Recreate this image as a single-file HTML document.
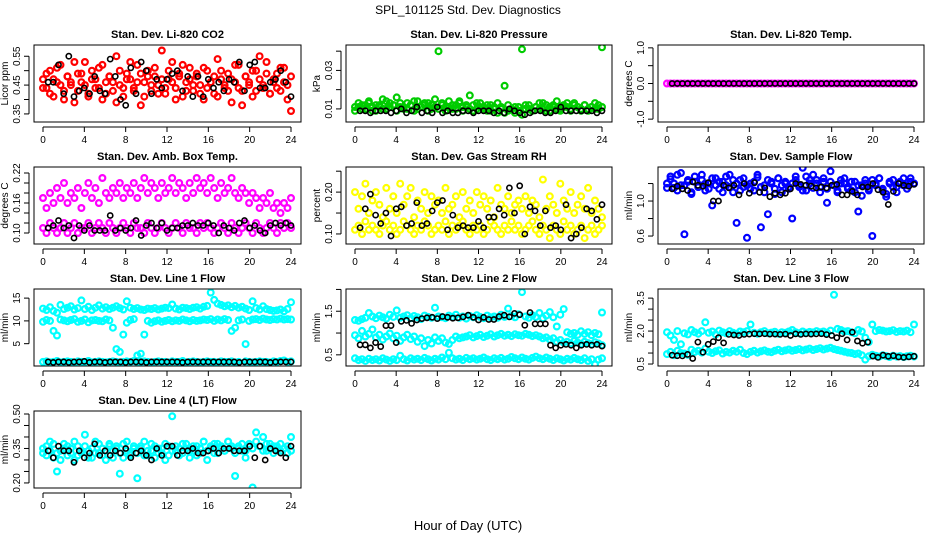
<!DOCTYPE html>
<html><head><meta charset="utf-8"><style>
html,body{margin:0;padding:0;background:#fff}
svg{display:block;font-family:"Liberation Sans",sans-serif}
</style></head><body>
<svg id="chart" width="936" height="540" viewBox="0 0 936 540">
<text x="468" y="14" text-anchor="middle" font-size="12">SPL_101125  Std. Dev. Diagnostics</text>
<text x="468" y="530" text-anchor="middle" font-size="13">Hour of Day (UTC)</text>
</svg>
<script>
const co2Red=[0.47,0.44,0.50,0.41,0.46,0.52,0.43,0.48,0.45,0.39,0.49,0.46,0.53,0.42,0.47,0.44,0.51,0.40,0.46,0.48,0.43,0.55,0.45,0.41,0.49,0.47,0.44,0.52,0.38,0.46,0.50,0.43,0.48,0.45,0.57,0.42,0.47,0.53,0.44,0.49,0.41,0.46,0.51,0.43,0.48,0.45,0.40,0.50,0.46,0.42,0.54,0.47,0.44,0.49,0.39,0.46,0.52,0.43,0.48,0.45,0.41,0.50,0.47,0.44,0.53,0.42,0.46,0.49,0.43,0.51,0.45,0.48];
const co2Red2=[0.44,0.49,0.42,0.47,0.51,0.45,0.40,0.48,0.46,0.53,0.43,0.49,0.45,0.41,0.50,0.47,0.44,0.52,0.42,0.48,0.46,0.39,0.50,0.44,0.47,0.53,0.43,0.46,0.49,0.41,0.48,0.45,0.51,0.42,0.47,0.44,0.50,0.46,0.40,0.48,0.52,0.43,0.47,0.45,0.49,0.42,0.51,0.44,0.46,0.48,0.41,0.50,0.45,0.43,0.47,0.52,0.44,0.38,0.48,0.46,0.50,0.43,0.55,0.45,0.49,0.42,0.47,0.44,0.51,0.46,0.40,0.36];
const co2Black=[0.46,0.46,0.52,0.42,0.55,0.41,0.43,0.44,0.42,0.48,0.43,0.42,0.54,0.48,0.40,0.38,0.51,0.42,0.53,0.50,0.42,0.47,0.44,0.47,0.49,0.50,0.43,0.48,0.41,0.48,0.41,0.47,0.44,0.46,0.43,0.47,0.46,0.53,0.43,0.52,0.53,0.44,0.44,0.46,0.47,0.50,0.46,0.41];
const presGreen=[0.011,0.013,0.010,0.012,0.014,0.009,0.012,0.011,0.015,0.010,0.013,0.012,0.016,0.011,0.010,0.013,0.012,0.009,0.014,0.011,0.012,0.013,0.010,0.015,0.040,0.012,0.011,0.014,0.010,0.012,0.013,0.009,0.011,0.017,0.012,0.010,0.013,0.011,0.009,0.012,0.010,0.008,0.011,0.022,0.009,0.010,0.008,0.011,0.041,0.012,0.010,0.009,0.011,0.013,0.010,0.012,0.009,0.011,0.014,0.010,0.012,0.011,0.009,0.013,0.011,0.010,0.012,0.009,0.011,0.010,0.012,0.042];
const presGreen2=[0.009,0.011,0.012,0.010,0.013,0.011,0.009,0.012,0.010,0.014,0.011,0.012,0.009,0.013,0.011,0.010,0.012,0.014,0.010,0.011,0.013,0.009,0.012,0.011,0.010,0.013,0.009,0.011,0.012,0.010,0.014,0.011,0.012,0.010,0.009,0.013,0.011,0.010,0.012,0.009,0.011,0.013,0.010,0.008,0.012,0.010,0.011,0.009,0.007,0.010,0.012,0.009,0.011,0.010,0.013,0.009,0.011,0.012,0.010,0.009,0.011,0.013,0.010,0.012,0.011,0.009,0.012,0.010,0.011,0.013,0.010,0.011];
const presBlack=[0.009,0.009,0.008,0.009,0.009,0.009,0.008,0.009,0.010,0.008,0.009,0.011,0.008,0.009,0.008,0.011,0.008,0.009,0.008,0.008,0.009,0.009,0.008,0.009,0.009,0.009,0.008,0.009,0.008,0.010,0.009,0.008,0.007,0.008,0.009,0.009,0.008,0.008,0.009,0.011,0.009,0.009,0.009,0.009,0.009,0.009,0.008,0.009];
const tempMagenta=[0,0,0,0,0,0,0,0,0,0,0,0,0,0,0,0,0,0,0,0,0,0,0,0,0,0,0,0,0,0,0,0,0,0,0,0,0,0,0,0,0,0,0,0,0,0,0,0,0,0,0,0,0,0,0,0,0,0,0,0,0,0,0,0,0,0,0,0,0,0,0,0];
const tempBlack=[0,0,0,0,0,0,0,0,0,0,0,0,0,0,0,0,0,0,0,0,0,0,0,0,0,0,0,0,0,0,0,0,0,0,0,0,0,0,0,0,0,0,0,0,0,0,0,0];
const boxUpper=[0.17,0.15,0.18,0.16,0.19,0.17,0.20,0.16,0.18,0.17,0.19,0.15,0.18,0.20,0.17,0.19,0.16,0.21,0.18,0.17,0.19,0.18,0.20,0.17,0.19,0.18,0.20,0.17,0.19,0.21,0.18,0.20,0.19,0.17,0.20,0.18,0.19,0.21,0.18,0.20,0.19,0.17,0.20,0.18,0.21,0.19,0.20,0.18,0.21,0.19,0.17,0.20,0.18,0.19,0.21,0.18,0.17,0.19,0.18,0.16,0.18,0.17,0.15,0.17,0.16,0.18,0.15,0.16,0.14,0.16,0.15,0.17];
const boxLower=[0.11,0.10,0.12,0.11,0.10,0.11,0.12,0.10,0.11,0.12,0.10,0.11,0.11,0.12,0.10,0.11,0.12,0.11,0.10,0.12,0.11,0.10,0.11,0.12,0.11,0.10,0.12,0.11,0.11,0.10,0.12,0.11,0.10,0.11,0.12,0.11,0.10,0.11,0.12,0.11,0.10,0.12,0.11,0.11,0.10,0.12,0.11,0.12,0.11,0.10,0.11,0.12,0.11,0.10,0.12,0.11,0.10,0.11,0.12,0.11,0.10,0.12,0.11,0.10,0.11,0.12,0.11,0.10,0.12,0.11,0.12,0.11];
const boxBlack=[0.11,0.115,0.125,0.11,0.115,0.09,0.115,0.105,0.115,0.105,0.105,0.105,0.135,0.105,0.11,0.105,0.11,0.125,0.095,0.115,0.12,0.11,0.12,0.105,0.11,0.11,0.115,0.115,0.12,0.115,0.115,0.12,0.115,0.10,0.115,0.11,0.105,0.12,0.125,0.11,0.115,0.105,0.10,0.115,0.12,0.115,0.12,0.115];
const rhUpper=[0.20,0.16,0.19,0.22,0.15,0.18,0.20,0.17,0.14,0.21,0.16,0.19,0.15,0.22,0.17,0.19,0.21,0.14,0.18,0.16,0.20,0.15,0.19,0.17,0.18,0.15,0.21,0.16,0.17,0.19,0.14,0.20,0.16,0.18,0.15,0.20,0.17,0.19,0.16,0.18,0.14,0.21,0.17,0.16,0.19,0.15,0.17,0.18,0.16,0.19,0.15,0.18,0.17,0.14,0.23,0.16,0.19,0.17,0.15,0.22,0.18,0.16,0.20,0.15,0.17,0.19,0.16,0.21,0.15,0.18,0.16,0.14];
const rhLower=[0.11,0.12,0.10,0.13,0.11,0.12,0.11,0.10,0.12,0.13,0.11,0.12,0.10,0.11,0.13,0.12,0.11,0.10,0.12,0.11,0.13,0.12,0.10,0.11,0.12,0.11,0.13,0.10,0.12,0.11,0.12,0.13,0.11,0.10,0.12,0.11,0.12,0.10,0.11,0.13,0.12,0.11,0.10,0.12,0.11,0.13,0.11,0.12,0.10,0.11,0.12,0.13,0.11,0.10,0.12,0.11,0.09,0.12,0.11,0.10,0.13,0.11,0.12,0.10,0.11,0.12,0.09,0.11,0.12,0.10,0.11,0.12];
const rhBlack=[0.115,0.16,0.195,0.145,0.125,0.15,0.095,0.16,0.165,0.12,0.125,0.175,0.12,0.125,0.155,0.175,0.18,0.11,0.145,0.115,0.12,0.115,0.115,0.13,0.115,0.14,0.14,0.16,0.145,0.21,0.15,0.215,0.10,0.165,0.155,0.12,0.155,0.115,0.12,0.11,0.17,0.09,0.10,0.115,0.16,0.155,0.135,0.17];
const flowBlue=[1.20,1.25,1.15,1.30,1.18,0.62,1.22,1.10,1.28,1.16,1.24,1.12,1.20,0.95,1.26,1.14,1.22,1.18,1.30,1.10,0.75,1.24,1.16,0.58,1.20,1.12,1.27,0.70,1.18,0.85,1.22,1.14,1.26,1.10,1.20,1.16,0.80,1.24,1.18,1.12,1.28,1.20,1.15,1.24,1.10,1.22,0.98,1.34,1.18,1.12,1.20,1.26,1.14,1.22,1.10,0.88,1.18,1.24,1.12,0.60,1.20,1.26,1.14,1.05,1.22,1.16,1.10,1.20,1.26,1.18,1.22,1.20];
const flowBlue2=[1.15,1.28,1.20,1.12,1.32,1.18,1.24,1.08,1.22,1.16,1.30,1.20,1.14,1.26,1.18,1.22,1.10,1.28,1.16,1.24,1.20,1.12,1.26,1.18,1.14,1.22,1.30,1.16,1.10,1.24,1.20,1.08,1.26,1.18,1.22,1.14,1.20,1.28,1.16,1.38,1.12,1.24,1.30,1.20,1.16,1.26,1.14,1.22,1.18,1.10,1.24,1.20,1.16,1.12,1.22,1.18,1.06,1.20,1.14,1.24,1.18,1.26,1.12,1.08,1.20,1.24,1.16,1.22,1.18,1.14,1.26,1.20];
const flowBlack=[1.14,1.17,1.14,1.12,1.22,1.18,1.17,1.21,1.00,1.00,1.18,1.15,1.18,1.07,1.20,1.09,1.21,1.10,1.15,1.05,1.09,1.07,1.09,1.14,1.20,1.19,1.18,1.17,1.15,1.16,1.15,1.18,1.19,1.07,1.07,1.11,1.07,1.16,1.16,1.20,1.13,1.10,0.96,1.11,1.20,1.18,1.17,1.19];
const line1High=[12.7,12.4,13.0,12.2,11.8,13.5,12.6,12.9,13.2,12.5,12.8,14.5,12.6,13.1,12.4,12.9,13.4,12.7,13.0,12.6,12.9,13.2,12.8,12.5,14.3,12.9,12.6,12.8,12.5,12.4,12.7,12.6,12.8,12.5,12.7,12.9,12.8,13.6,12.7,12.5,12.9,12.8,12.6,12.9,13.0,12.7,13.1,13.3,16.2,14.6,13.8,13.5,13.2,13.4,13.0,13.3,12.9,13.1,12.7,12.4,14.3,12.8,12.5,13.2,12.6,12.4,12.2,12.3,12.5,12.1,12.6,14.1];
const line1Mid=[9.8,10.2,10.0,7.8,6.8,10.3,10.1,9.9,10.2,10.4,9.8,10.0,10.3,9.7,10.1,10.2,10.0,9.9,10.3,10.1,8.5,3.8,3.2,7.0,9.6,10.2,10.4,2.4,2.8,7.0,10.0,9.6,9.9,10.1,9.8,10.0,10.2,9.9,10.1,10.0,10.3,10.1,9.9,10.2,10.0,10.1,10.3,10.2,10.4,10.0,10.3,10.1,10.4,10.2,7.8,8.5,10.1,10.3,4.9,10.0,10.3,10.4,10.2,10.5,10.3,10.2,10.4,10.3,10.5,10.3,10.4,10.3];
const line1Low=[1.0,1.1,0.9,1.0,1.2,0.9,1.0,1.1,1.0,0.9,1.1,1.0,1.0,1.2,0.9,1.0,1.1,1.0,0.9,1.0,1.1,1.0,0.9,1.0,1.1,1.0,1.2,0.9,1.0,1.1,1.0,0.9,1.0,1.1,1.0,1.0,0.9,1.1,1.0,1.0,1.2,0.9,1.0,1.1,1.0,0.9,1.0,1.1,1.0,1.0,0.9,1.1,1.0,1.0,1.1,0.9,1.0,0.6,1.1,1.0,0.9,1.0,1.1,1.0,1.0,0.9,1.1,1.0,1.2,1.3,1.0,1.1];
const line1Black=[1.0,0.9,1.0,1.0,0.9,1.0,1.0,1.1,0.9,1.0,1.0,0.9,1.0,1.0,1.0,0.9,1.0,1.0,1.0,0.9,1.0,1.0,1.0,1.0,1.0,1.0,0.9,1.0,1.0,1.0,1.0,1.0,1.0,1.0,1.0,1.0,1.0,0.9,1.0,1.0,1.0,1.0,1.0,0.9,1.0,1.0,1.0,1.0];
const line2High=[1.30,1.28,1.32,1.35,1.46,1.38,1.34,1.40,1.36,1.33,1.42,1.37,1.52,1.35,1.38,1.41,1.34,1.39,1.36,1.32,1.40,1.37,1.35,1.58,1.38,1.36,1.34,1.40,1.37,1.42,1.35,1.38,1.33,1.39,1.36,1.41,1.37,1.34,1.40,1.36,1.38,1.35,1.42,1.37,1.56,1.39,1.36,1.43,1.94,1.38,1.35,1.41,1.37,1.46,1.34,1.40,1.48,1.36,1.15,1.42,1.55,1.02,0.98,1.00,0.96,1.04,0.98,1.02,0.95,1.00,0.97,1.47];
const line2Mid=[0.95,0.88,1.05,0.92,0.98,1.08,0.90,0.96,0.85,0.92,0.99,0.88,0.94,0.82,0.90,0.96,0.86,0.92,0.80,0.88,0.70,0.84,0.76,0.90,0.82,0.88,0.78,0.75,0.84,0.92,0.88,0.90,0.92,0.95,0.90,0.93,0.96,0.91,0.94,0.97,0.92,0.95,0.98,0.94,0.96,0.93,0.97,0.95,0.94,0.98,0.96,0.93,0.95,0.92,0.88,0.90,0.85,0.88,0.80,0.84,0.78,0.80,0.76,0.82,0.78,0.75,0.80,0.77,0.74,0.79,0.76,0.72];
const line2Low=[0.42,0.38,0.40,0.36,0.41,0.38,0.40,0.37,0.42,0.39,0.36,0.40,0.38,0.48,0.40,0.37,0.42,0.39,0.41,0.38,0.43,0.40,0.37,0.41,0.39,0.44,0.40,0.55,0.42,0.39,0.41,0.38,0.43,0.40,0.42,0.39,0.41,0.44,0.40,0.38,0.42,0.40,0.43,0.39,0.41,0.45,0.42,0.40,0.44,0.41,0.39,0.43,0.46,0.42,0.40,0.44,0.41,0.38,0.42,0.40,0.37,0.41,0.39,0.43,0.40,0.38,0.42,0.36,0.40,0.28,0.39,0.42];
const line2Black=[0.73,0.73,0.66,0.78,0.69,1.17,1.17,0.78,1.27,1.29,1.22,1.30,1.33,1.35,1.36,1.33,1.38,1.36,1.34,1.35,1.37,1.41,1.36,1.30,1.36,1.31,1.31,1.38,1.41,1.37,1.45,1.42,1.18,1.47,1.21,1.21,1.21,0.72,0.66,0.72,0.74,0.72,0.66,0.72,0.74,0.72,0.74,0.70];
const line3High=[1.95,1.80,1.60,2.00,1.40,1.90,1.85,2.05,1.95,1.88,2.00,2.40,1.92,1.98,1.85,2.02,1.95,1.90,2.00,1.92,1.88,1.98,1.95,2.00,2.30,1.92,1.88,1.95,2.00,1.90,1.93,1.97,1.88,1.95,1.92,1.98,2.05,1.95,1.90,1.98,1.92,1.96,1.94,2.00,1.95,1.98,1.92,2.02,3.65,2.10,2.05,1.98,2.00,1.95,1.90,2.05,1.98,1.70,1.50,2.30,2.00,2.05,2.02,1.98,2.00,2.04,1.96,2.00,1.98,2.02,1.95,2.30];
const line3Low=[0.95,1.05,0.90,1.10,1.00,0.98,0.92,1.15,1.05,1.10,1.02,1.20,1.06,1.00,1.08,1.12,0.98,1.05,1.02,1.10,1.06,1.15,1.00,0.95,1.05,1.10,1.02,1.08,1.12,1.06,1.04,1.10,1.15,1.08,1.12,1.16,1.10,1.14,1.18,1.12,1.16,1.20,1.14,1.18,1.22,1.16,1.20,1.24,1.18,1.14,1.10,1.06,1.02,1.00,0.95,0.98,0.90,0.70,0.85,0.92,0.88,0.84,0.90,0.86,0.82,0.88,0.84,0.86,0.82,0.85,0.88,0.84];
const line3Black=[0.90,0.88,0.87,0.94,0.75,1.50,1.04,1.40,1.52,1.70,1.46,1.85,1.82,1.80,1.85,1.86,1.88,1.87,1.88,1.86,1.86,1.85,1.86,1.80,1.87,1.85,1.87,1.86,1.87,1.88,1.84,1.80,1.70,1.88,1.60,1.95,1.55,1.45,1.50,0.86,0.80,0.90,0.85,0.88,0.82,0.80,0.83,0.85];
const line4Cyan=[0.33,0.36,0.38,0.31,0.25,0.34,0.37,0.32,0.35,0.30,0.36,0.33,0.41,0.34,0.31,0.38,0.33,0.35,0.30,0.37,0.34,0.36,0.24,0.31,0.38,0.33,0.35,0.22,0.36,0.32,0.34,0.37,0.31,0.35,0.33,0.30,0.36,0.49,0.34,0.32,0.37,0.35,0.31,0.34,0.36,0.33,0.38,0.30,0.35,0.37,0.33,0.36,0.34,0.38,0.35,0.23,0.36,0.34,0.31,0.37,0.18,0.42,0.36,0.40,0.34,0.37,0.33,0.36,0.34,0.35,0.33,0.40];
const line4Cyan2=[0.35,0.32,0.34,0.37,0.33,0.30,0.35,0.36,0.33,0.38,0.32,0.34,0.36,0.31,0.35,0.33,0.37,0.32,0.34,0.36,0.31,0.35,0.33,0.37,0.34,0.32,0.36,0.33,0.35,0.38,0.32,0.34,0.36,0.33,0.35,0.37,0.32,0.34,0.36,0.35,0.33,0.37,0.34,0.36,0.32,0.35,0.38,0.34,0.36,0.33,0.37,0.35,0.34,0.38,0.36,0.33,0.35,0.37,0.34,0.36,0.35,0.38,0.36,0.34,0.37,0.35,0.36,0.34,0.37,0.35,0.36,0.34];
const line4Black=[0.34,0.31,0.36,0.34,0.34,0.29,0.34,0.31,0.33,0.37,0.32,0.34,0.32,0.34,0.33,0.35,0.31,0.33,0.34,0.32,0.30,0.35,0.32,0.36,0.36,0.32,0.34,0.34,0.35,0.33,0.33,0.34,0.35,0.33,0.35,0.35,0.34,0.34,0.34,0.36,0.31,0.36,0.30,0.35,0.34,0.33,0.31,0.36];
const xTickLabels=["0","4","8","12","16","20","24"];
const xTicks=[0,4,8,12,16,20,24];

const NS="http://www.w3.org/2000/svg";
const svg=document.getElementById('chart');
const cols=[{l:34,r:301},{l:346,r:612},{l:658,r:924}];
const rows=[45,167,289,411];
const H=77;
function el(tag,attrs,parent){const e=document.createElementNS(NS,tag);for(const k in attrs)e.setAttribute(k,attrs[k]);(parent||svg).appendChild(e);return e;}

const panels=[
 {name:'co2',title:'Stan. Dev. Li-820 CO2',ylab:'Licor ppm',c:0,r:0,ylim:[0.322,0.589],ticks:[0.35,0.40,0.45,0.50,0.55],labels:['0.35','','0.45','','0.55'],series:[[co2Red,'#ff0000'],[co2Red2,'#ff0000']],black:co2Black},
 {name:'pressure',title:'Stan. Dev. Li-820 Pressure',ylab:'kPa',c:1,r:0,ylim:[0.0032,0.0432],ticks:[0.01,0.02,0.03,0.04],labels:['0.01','','0.03',''],series:[[presGreen,'#00cc00'],[presGreen2,'#00cc00']],black:presBlack},
 {name:'temp',title:'Stan. Dev. Li-820 Temp.',ylab:'degrees C',c:2,r:0,ylim:[-1.08,1.08],ticks:[-1,-0.5,0,0.5,1],labels:['-1.0','','0.0','','1.0'],series:[[tempMagenta,'#ff00ff']],black:tempBlack},
 {name:'amb-box-temp',title:'Stan. Dev. Amb. Box Temp.',ylab:'degrees C',c:0,r:1,ylim:[0.078,0.232],ticks:[0.10,0.12,0.14,0.16,0.18,0.20,0.22],labels:['0.10','','','0.16','','','0.22'],series:[[boxUpper,'#ff00ff'],[boxLower,'#ff00ff']],black:boxBlack},
 {name:'gas-rh',title:'Stan. Dev. Gas Stream RH',ylab:'percent',c:1,r:1,ylim:[0.076,0.26],ticks:[0.10,0.15,0.20,0.25],labels:['0.10','','0.20',''],series:[[rhUpper,'#ffff00'],[rhLower,'#ffff00']],black:rhBlack},
 {name:'sample-flow',title:'Stan. Dev. Sample Flow',ylab:'ml/min',c:2,r:1,ylim:[0.509,1.389],ticks:[0.6,0.8,1.0,1.2],labels:['0.6','','1.0',''],series:[[flowBlue,'#0000ff'],[flowBlue2,'#0000ff']],black:flowBlack},
 {name:'line1-flow',title:'Stan. Dev. Line 1 Flow',ylab:'ml/min',c:0,r:2,ylim:[0.1,17],ticks:[5,10,15],labels:['5','10','15'],series:[[line1High,'#00ffff'],[line1Mid,'#00ffff'],[line1Low,'#00ffff']],black:line1Black},
 {name:'line2-flow',title:'Stan. Dev. Line 2 Flow',ylab:'ml/min',c:1,r:2,ylim:[0.244,2.01],ticks:[0.5,1.0,1.5,2.0],labels:['0.5','','1.5',''],series:[[line2High,'#00ffff'],[line2Mid,'#00ffff'],[line2Low,'#00ffff']],black:line2Black},
 {name:'line3-flow',title:'Stan. Dev. Line 3 Flow',ylab:'ml/min',c:2,r:2,ylim:[0.41,3.915],ticks:[0.5,1.0,1.5,2.0,2.5,3.0,3.5],labels:['0.5','','','2.0','','','3.5'],series:[[line3High,'#00ffff'],[line3Low,'#00ffff']],black:line3Black},
 {name:'line4-flow',title:'Stan. Dev. Line 4 (LT) Flow',ylab:'ml/min',c:0,r:3,ylim:[0.178,0.513],ticks:[0.20,0.25,0.30,0.35,0.40,0.45,0.50],labels:['0.20','','','0.35','','','0.50'],series:[[line4Cyan,'#00ffff'],[line4Cyan2,'#00ffff']],black:line4Black}
];

panels.forEach(p=>{
 const col=cols[p.c],top=rows[p.r],bot=top+H;
 const x0=col.l+9,x1=col.r-10;
 const sx=v=>x0+(v/24)*(x1-x0);
 const sy=v=>bot-(v-p.ylim[0])/(p.ylim[1]-p.ylim[0])*H;
 const g=el('g',{});
 
 
 const t=el('text',{x:(col.l+col.r)/2,y:top-7,'text-anchor':'middle','font-size':'11','font-weight':'bold'},g);
 t.textContent=p.title;
 
 
 const clip=el('clipPath',{id:'clip-'+p.name},g);
 el('rect',{x:col.l,y:top,width:col.r-col.l,height:H},clip);
 const pts=el('g',{'clip-path':'url(#clip-'+p.name+')',fill:'none'},g);
 
 
 p.series.forEach(([vals,color])=>{
  vals.forEach((v,i)=>{
   const c=el('circle',{cx:sx(i*24/(vals.length-1)).toFixed(1),cy:sy(v).toFixed(1),r:2.9,stroke:color,'stroke-width':'2.2'},pts);
   
   
  });
 });
 p.black.forEach((v,i)=>{
  const c=el('circle',{cx:sx(0.5+i*23.5/(p.black.length-1)).toFixed(1),cy:sy(v).toFixed(1),r:2.6,stroke:'#000','stroke-width':'1.6'},pts);
  
  
 });
 const box=el('rect',{x:col.l,y:top,width:col.r-col.l,height:H,fill:'none',stroke:'#000','stroke-width':'1'},g);
 
 
 el('line',{x1:sx(0),x2:sx(24),y1:bot+5,y2:bot+5,stroke:'#000'},g);
 xTicks.forEach((v,i)=>{
  el('line',{x1:sx(v),x2:sx(v),y1:bot+5,y2:bot+10,stroke:'#000'},g);
  const tl=el('text',{x:sx(v),y:bot+21,'text-anchor':'middle','font-size':'10'},g);
  tl.textContent=xTickLabels[i];
  
  
 });
 const ax=col.l-5;
 el('line',{x1:ax,x2:ax,y1:sy(p.ticks[0]),y2:sy(p.ticks[p.ticks.length-1]),stroke:'#000'},g);
 p.ticks.forEach((v,i)=>{
  el('line',{x1:ax-5,x2:ax,y1:sy(v),y2:sy(v),stroke:'#000'},g);
  if(p.labels[i]){
   const yl=el('text',{x:ax-9,y:sy(v),'text-anchor':'middle','font-size':'10',transform:`rotate(-90 ${ax-9} ${sy(v)})`},g);
   yl.textContent=p.labels[i];
   
   
  }
 });
 const yx=col.l-26,ym=top+H/2;
 const yt=el('text',{x:yx,y:ym,'text-anchor':'middle','font-size':'10',transform:`rotate(-90 ${yx} ${ym})`},g);
 yt.textContent=p.ylab;
 
 
});
</script>
</body></html>
